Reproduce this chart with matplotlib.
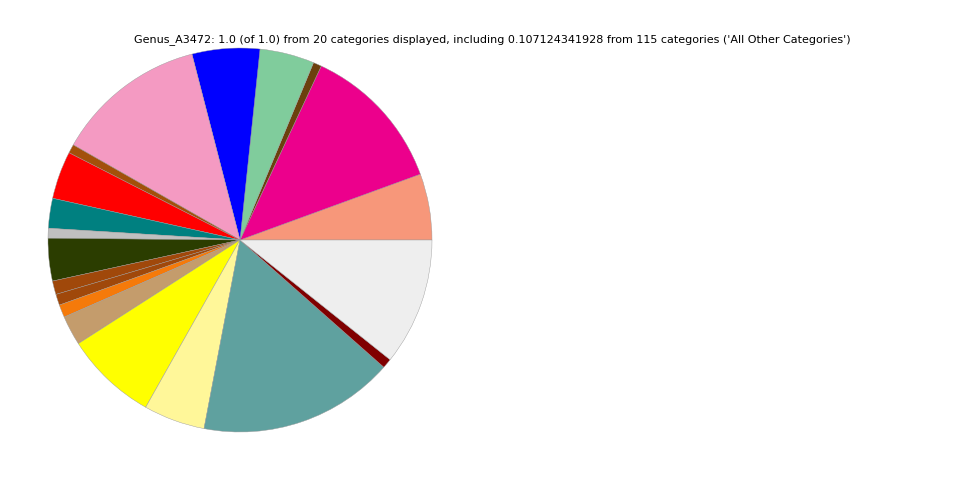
import numpy as np
import matplotlib
matplotlib.use("Agg")
import matplotlib.pyplot as plt

# slice fractions, counterclockwise from 3 o'clock
fracs = [0.0557, 0.1247, 0.0070, 0.0459, 0.0569, 0.1272, 0.0074, 0.0402,
         0.0251, 0.0083, 0.0358, 0.0114, 0.0093, 0.0107, 0.0250, 0.0775,
         0.0517, 0.1647, 0.0081, 0.107124341928]
colors = ['#F7977A', '#EC008C', '#6B400D', '#80CC9C', '#0000FF', '#F49AC2',
          '#A3500A', '#FF0000', '#008080', '#C0C0C0', '#2B3D00', '#A0480A',
          '#A0480A', '#F57A0A', '#C49C6C', '#FFFF00', '#FFF799', '#5FA19F',
          '#800000', '#EEEEEE']
title = ("Genus_A3472: 1.0 (of 1.0) from 20 categories displayed, including "
         "0.107124341928 from 115 categories ('All Other Categories')")

fig = plt.figure(figsize=(9.6, 4.8), dpi=100)
ax = fig.add_axes([48/960., 48/480., 384/960., 384/480.])
ax.pie(fracs, colors=colors, startangle=0, counterclock=True,
       wedgeprops={'linewidth': 0.3, 'edgecolor': '#999999'})
ax.set_xlim(-1, 1)
ax.set_ylim(-1, 1)
ax.set_aspect('equal')
ax.axis('off')
fig.text(492/960., 1 - 40/480., title, ha='center', va='center', fontsize=8)

fig.savefig('out.png', dpi=100)
